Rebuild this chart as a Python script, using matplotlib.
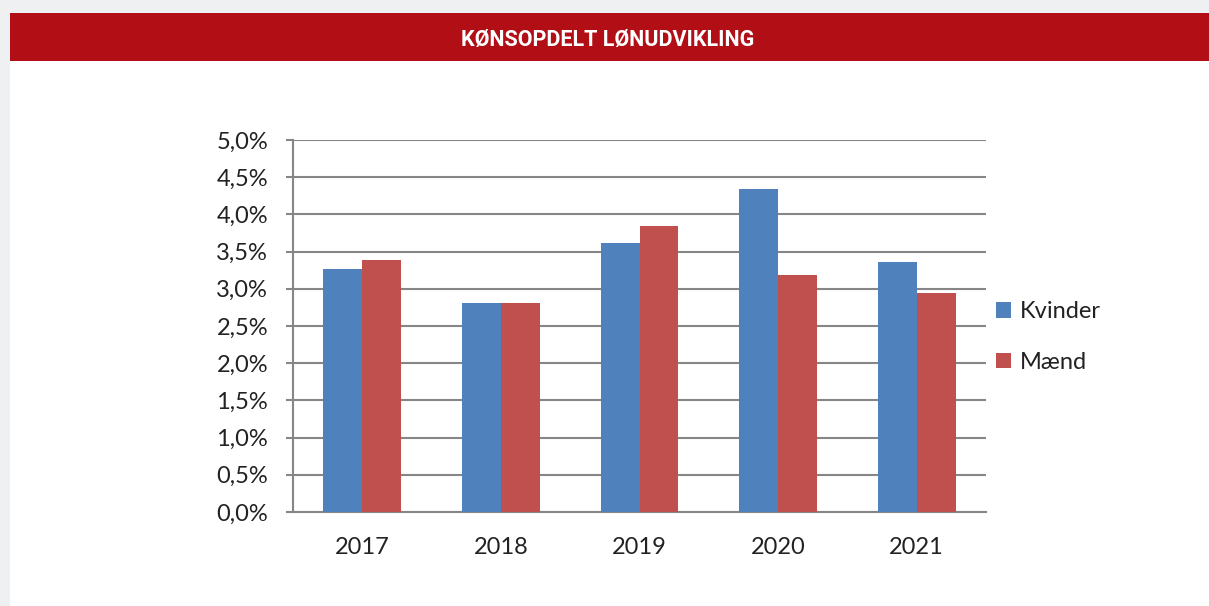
import numpy as np
import matplotlib
matplotlib.use("Agg")
import matplotlib.pyplot as plt
from matplotlib.patches import Rectangle
from matplotlib.ticker import MultipleLocator, FuncFormatter

# Lønudvikling pr. år, i procent
aar = ["2017", "2018", "2019", "2020", "2021"]
kvinder = [3.27, 2.81, 3.62, 4.34, 3.36]
maend = [3.39, 2.81, 3.84, 3.19, 2.94]

blaa = "#4f81bd"
roed = "#c0504d"
banner_roed = "#b20e15"
gitter = "#868686"

plt.rcParams["font.family"] = ["Lato", "DejaVu Sans"]

W, H = 1209, 606
fig = plt.figure(figsize=(W / 100, H / 100), dpi=100)
fig.patch.set_facecolor("#eff0f2")

# hvidt kort og rødt banner
fig.patches.append(Rectangle((10 / W, 0), 1, (H - 13) / H, transform=fig.transFigure,
                             facecolor="white", edgecolor="none", zorder=-10))
fig.patches.append(Rectangle((10 / W, (H - 61) / H), 1, 48 / H, transform=fig.transFigure,
                             facecolor=banner_roed, edgecolor="none", zorder=-9))
fig.text(608 / W, (H - 40) / H, "KØNSOPDELT LØNUDVIKLING", color="white",
         fontsize=15.5, fontweight="bold", fontfamily="Roboto",
         ha="center", va="center")

ax = fig.add_axes([293 / W, (H - 512) / H, 693 / W, 372 / H])
ax.set_facecolor("none")
ax.set_zorder(1)

x = np.arange(len(aar))
bredde = 0.28
ax.bar(x - bredde / 2, kvinder, bredde, color=blaa, label="Kvinder", zorder=3)
ax.bar(x + bredde / 2, maend, bredde, color=roed, label="Mænd", zorder=3)

ax.set_xlim(-0.5, len(aar) - 0.5)
ax.set_ylim(0, 5.0)
ax.yaxis.set_major_locator(MultipleLocator(0.5))
ax.yaxis.set_major_formatter(FuncFormatter(lambda v, p: f"{v:.1f}%".replace(".", ",")))
ax.set_xticks(x)
ax.set_xticklabels(aar)

ax.grid(axis="y", color=gitter, linewidth=1.5, zorder=0)
for side in ["top", "right"]:
    ax.spines[side].set_visible(False)
for side in ["left", "bottom"]:
    ax.spines[side].set_color(gitter)
    ax.spines[side].set_linewidth(1.5)

ax.tick_params(axis="y", length=5, width=1.5, color=gitter, pad=13,
               labelsize=17, labelcolor="#222222")
ax.tick_params(axis="x", length=0, pad=18, labelsize=17, labelcolor="#222222")

fig.legend(loc="center left", bbox_to_anchor=(975 / W, (H - 337) / H), frameon=False,
           fontsize=17, handlelength=0.62, handleheight=0.62, handletextpad=0.4,
           labelspacing=1.25, labelcolor="#222222")

fig.savefig("out.png", dpi=100, facecolor=fig.get_facecolor())
